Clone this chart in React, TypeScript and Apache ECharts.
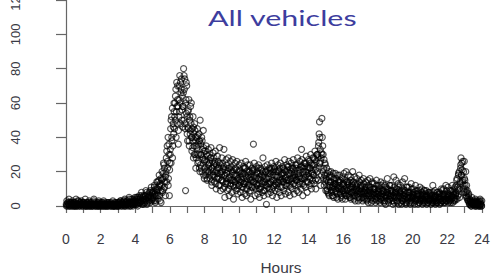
import React, { useEffect, useRef } from "react";
import * as echarts from "echarts";

// Hour-of-day slots (15 minutes each); each list holds the readings of one slot, in time order.
const slotLengthHours = 0.25;
const readings: number[][] = [
  [1, 3, 0, 2, 1, 4, 0, 2], [2, 0, 1, 3, 1, 0, 2, 1], [0, 2, 4, 1, 0, 3, 1, 2], [1, 0, 2, 1, 3, 0, 1, 2],
  [2, 1, 0, 4, 1, 0, 2, 1], [0, 1, 3, 1, 0, 2, 1, 0], [1, 0, 2, 4, 1, 0, 2, 1], [0, 2, 1, 0, 3, 1, 0, 1],
  [1, 0, 2, 1, 0, 3, 1, 0], [0, 1, 2, 0, 1, 0, 2, 1], [1, 0, 1, 2, 0, 1, 3, 0], [0, 2, 1, 0, 1, 2, 0, 1],
  [1, 0, 2, 1, 3, 0, 2, 1], [2, 1, 0, 3, 4, 1, 0, 2], [1, 3, 0, 2, 5, 1, 2, 0], [2, 4, 1, 0, 3, 1, 2, 5],
  [3, 1, 5, 2, 0, 4, 2, 6], [2, 5, 3, 8, 1, 4, 2, 6], [4, 2, 6, 9, 3, 1, 5, 7], [5, 3, 8, 2, 6, 11, 4, 7],
  [5, 9, 3, 12, 7, 2, 10, 6, 14], [8, 14, 4, 11, 18, 6, 13, 9, 2], [12, 20, 8, 16, 25, 10, 22, 14, 6], [18, 28, 14, 35, 22, 40, 16, 30, 6, 25],
  [30, 45, 25, 52, 38, 57, 35, 48, 42, 55], [45, 60, 50, 68, 55, 72, 48, 62, 58, 44], [52, 70, 76, 60, 48, 66, 74, 56, 64, 46], [58, 80, 50, 68, 74, 45, 9, 62, 54, 70, 42],
  [38, 55, 45, 62, 35, 50, 42, 58, 48, 40], [32, 45, 38, 52, 28, 42, 35, 48, 30, 40, 22], [28, 40, 34, 45, 25, 36, 30, 42, 22, 38, 50], [24, 36, 30, 40, 20, 33, 27, 44, 18, 32, 26],
  [22, 32, 18, 35, 26, 15, 29, 20, 33, 24], [20, 30, 16, 28, 34, 22, 12, 26, 18, 31], [18, 28, 14, 25, 32, 20, 10, 24, 16, 29], [17, 26, 12, 22, 34, 19, 9, 24, 15, 28],
  [15, 25, 10, 22, 33, 18, 5, 21, 13, 27], [14, 24, 9, 20, 28, 16, 6, 22, 12, 26], [13, 23, 8, 19, 27, 15, 4, 21, 11, 25], [14, 22, 9, 18, 26, 16, 7, 20, 12, 24],
  [12, 21, 8, 17, 25, 15, 5, 19, 11, 23], [13, 22, 7, 18, 26, 14, 6, 20, 10, 24], [12, 20, 8, 16, 24, 15, 4, 19, 11, 22], [11, 21, 36, 17, 25, 14, 6, 18, 10, 23],
  [12, 20, 7, 16, 24, 13, 5, 19, 10, 22], [11, 21, 8, 17, 28, 14, 6, 18, 9, 23], [12, 20, 1, 16, 24, 13, 7, 19, 10, 22], [13, 21, 8, 17, 25, 15, 6, 20, 11, 23],
  [12, 22, 9, 18, 26, 14, 5, 20, 10, 24], [13, 21, 8, 17, 25, 15, 6, 19, 11, 23], [14, 22, 9, 18, 27, 16, 7, 20, 12, 24], [13, 23, 8, 19, 26, 15, 6, 21, 11, 25],
  [14, 22, 10, 18, 27, 16, 7, 20, 12, 24], [15, 24, 9, 19, 28, 17, 8, 21, 13, 26], [14, 23, 10, 33, 27, 16, 6, 22, 12, 25], [16, 25, 11, 20, 29, 18, 8, 23, 14, 27],
  [17, 26, 12, 22, 30, 19, 10, 24, 15, 28], [18, 28, 13, 24, 32, 21, 10, 26, 16, 30], [20, 30, 15, 37, 42, 49, 25, 33, 12, 28, 18], [51, 40, 35, 30, 22, 27, 18, 14, 24, 9],
  [16, 22, 10, 19, 8, 14, 20, 6, 12, 18], [14, 20, 9, 17, 6, 12, 19, 5, 11, 15], [13, 19, 8, 16, 5, 11, 18, 4, 10, 14], [12, 18, 7, 15, 5, 10, 17, 4, 9, 13],
  [13, 19, 7, 15, 4, 11, 20, 6, 9, 14], [12, 18, 6, 14, 5, 10, 17, 4, 8, 13], [11, 20, 6, 14, 4, 9, 17, 3, 8, 12], [10, 16, 5, 13, 3, 9, 18, 4, 7, 12],
  [10, 15, 5, 12, 3, 8, 16, 4, 7, 11], [9, 14, 4, 11, 3, 8, 15, 2, 6, 10], [9, 16, 4, 11, 2, 7, 14, 3, 6, 10], [8, 13, 4, 10, 2, 7, 15, 3, 5, 9],
  [8, 12, 3, 10, 2, 6, 14, 4, 5, 9], [7, 13, 3, 9, 2, 6, 12, 1, 5, 8], [8, 16, 3, 10, 2, 6, 12, 4, 5, 9], [7, 12, 3, 9, 1, 6, 17, 2, 5, 8],
  [8, 15, 3, 10, 2, 6, 13, 1, 5, 9], [7, 12, 2, 9, 1, 5, 14, 3, 4, 8], [6, 16, 2, 9, 1, 5, 11, 3, 4, 8], [6, 11, 2, 8, 1, 5, 13, 2, 4, 7],
  [6, 10, 2, 8, 1, 4, 12, 3, 4, 7], [5, 9, 1, 7, 2, 4, 11, 3, 3, 6], [5, 10, 1, 7, 2, 4, 9, 2, 3, 6], [5, 9, 1, 6, 2, 4, 8, 3, 3, 6],
  [4, 8, 1, 6, 2, 3, 12, 2, 3, 5], [4, 9, 1, 6, 2, 3, 8, 2, 3, 5], [5, 8, 1, 7, 2, 4, 10, 3, 3, 6], [5, 10, 2, 7, 2, 4, 12, 3, 3, 6],
  [5, 11, 2, 7, 3, 4, 9, 2, 4, 6], [6, 12, 2, 8, 3, 5, 10, 3, 4, 7], [8, 15, 4, 11, 6, 18, 10, 20, 5, 13], [22, 28, 18, 25, 14, 26, 12, 20, 8, 16],
  [15, 10, 20, 6, 12, 8, 4, 5, 3, 7], [2, 4, 1, 3, 0, 2, 5, 1, 3, 2], [1, 3, 0, 2, 4, 1, 0, 2, 3, 1], [2, 0, 3, 1, 0, 4, 2, 1, 0, 3],
];
// A second run of readings for the same 15-minute slots (another day).
const secondDayReadings: number[][] = [
  [0, 1, 2, 1, 0, 2], [1, 2, 0, 1, 2, 0], [2, 0, 1, 0, 1, 3], [0, 1, 1, 2, 0, 1],
  [1, 2, 0, 1, 0, 2], [2, 0, 1, 0, 2, 1], [0, 1, 3, 1, 0, 1], [1, 0, 2, 0, 1, 2],
  [0, 2, 1, 0, 2, 1], [1, 0, 1, 2, 0, 1], [2, 1, 0, 1, 1, 0], [1, 0, 2, 1, 0, 2],
  [0, 2, 1, 3, 1, 0], [1, 3, 2, 0, 2, 1], [3, 1, 2, 4, 0, 2], [1, 3, 2, 4, 1, 3],
  [2, 4, 1, 5, 3, 2], [4, 2, 6, 3, 5, 1], [3, 6, 4, 8, 2, 5], [6, 4, 9, 5, 3, 8],
  [4, 8, 11, 6, 3, 9], [10, 6, 15, 12, 3, 16], [15, 9, 19, 24, 11, 17], [20, 32, 26, 12, 36, 21],
  [33, 50, 40, 28, 46, 60], [52, 64, 40, 58, 70, 36], [62, 55, 72, 68, 50, 58], [66, 76, 48, 60, 72, 52],
  [46, 56, 38, 52, 44, 60], [40, 34, 46, 30, 44, 38], [35, 30, 41, 26, 38, 20], [30, 22, 38, 28, 34, 16],
  [27, 20, 30, 16, 24, 22], [25, 18, 28, 14, 22, 20], [24, 17, 26, 13, 21, 19], [22, 16, 25, 12, 20, 18],
  [20, 14, 23, 11, 18, 16], [19, 13, 22, 10, 17, 15], [21, 15, 20, 12, 18, 14], [18, 12, 21, 10, 16, 15],
  [20, 14, 19, 11, 17, 13], [19, 13, 22, 10, 16, 14], [18, 12, 20, 9, 17, 15], [20, 14, 21, 11, 16, 13],
  [19, 12, 22, 10, 17, 15], [18, 13, 20, 9, 16, 14], [20, 12, 21, 11, 17, 13], [19, 14, 22, 10, 18, 15],
  [21, 13, 20, 12, 17, 14], [20, 15, 22, 11, 18, 16], [19, 14, 21, 12, 17, 15], [21, 15, 23, 12, 19, 16],
  [20, 16, 22, 13, 18, 17], [22, 15, 24, 12, 19, 17], [21, 16, 23, 13, 20, 18], [23, 17, 25, 14, 21, 19],
  [22, 16, 25, 13, 20, 19], [24, 18, 27, 15, 22, 30], [28, 35, 22, 40, 26, 31], [30, 20, 16, 12, 25, 18],
  [15, 9, 12, 7, 17, 11], [14, 8, 11, 6, 16, 10], [13, 9, 12, 7, 15, 10], [14, 8, 11, 6, 16, 9],
  [12, 8, 10, 6, 14, 9], [13, 7, 11, 5, 15, 8], [12, 8, 10, 6, 13, 9], [11, 7, 9, 5, 14, 8],
  [11, 7, 9, 5, 13, 8], [10, 6, 9, 4, 12, 7], [11, 6, 8, 5, 13, 7], [10, 6, 8, 4, 12, 7],
  [10, 6, 8, 4, 12, 7], [9, 5, 8, 3, 11, 6], [10, 6, 7, 4, 12, 6], [9, 5, 8, 3, 11, 7],
  [9, 5, 7, 3, 11, 6], [8, 5, 7, 3, 10, 6], [9, 4, 7, 2, 11, 5], [8, 5, 6, 3, 10, 5],
  [8, 5, 6, 3, 9, 4], [7, 4, 6, 2, 9, 4], [8, 4, 6, 3, 9, 5], [7, 4, 5, 2, 8, 4],
  [7, 4, 6, 2, 8, 4], [6, 3, 5, 2, 8, 4], [7, 4, 6, 2, 9, 3], [7, 4, 6, 3, 9, 5],
  [7, 4, 6, 3, 9, 5], [9, 5, 7, 4, 11, 6], [12, 16, 9, 19, 7, 14], [24, 18, 21, 15, 10, 26],
  [12, 8, 5, 9, 3, 6], [1, 3, 2, 0, 2, 1], [2, 1, 3, 0, 1, 2], [1, 2, 0, 3, 1, 0],
];
const titleText = "All vehicles";
const xAxisTitle = "Hours";

export default function App() {
  const ref = useRef<HTMLDivElement>(null);
  useEffect(() => {
    if (!ref.current) return;
    const chart = echarts.init(ref.current, undefined, { renderer: "svg" });
    const points: number[][] = [];
    [readings, secondDayReadings].forEach((day) => {
      day.forEach((vals, i) => {
        vals.forEach((v, k) => {
          points.push([i * slotLengthHours + ((k + 0.5) * slotLengthHours) / vals.length, v]);
        });
      });
    });
    const labelStyle = { color: "#3a3a44", fontFamily: "Liberation Sans", fontSize: 14 };
    chart.setOption({
      animation: false,
      backgroundColor: "#fff",
      grid: { left: 66, right: 9, top: 0, bottom: 73, containLabel: false, outerBoundsMode: "none" },
      xAxis: {
        type: "value",
        min: 0,
        max: 24,
        interval: 1,
        offset: 9,
        axisLine: { show: true, lineStyle: { color: "#666", width: 1.2 } },
        axisTick: { show: true, length: 7, lineStyle: { color: "#666", width: 1.2 } },
        splitLine: { show: false },
        axisLabel: {
          ...labelStyle,
          margin: 17,
          formatter: (v: number) => (v % 2 === 0 ? String(v) : ""),
        },
      },
      yAxis: {
        type: "value",
        min: 0,
        max: 120,
        interval: 20,
        offset: 17,
        axisLine: { show: true, lineStyle: { color: "#666", width: 1.2 } },
        axisTick: { show: true, length: 10, lineStyle: { color: "#666", width: 1.2 } },
        splitLine: { show: false },
        axisLabel: {
          ...labelStyle,
          fontSize: 13,
          rotate: 90,
          margin: 27,
          align: "center",
          verticalAlign: "bottom",
        },
      },
      graphic: [
        {
          type: "text",
          x: 208,
          y: 7,
          scaleX: 1.45,
          style: { text: titleText, fill: "#3d3d9e", font: "21px Lato" },
        },
        {
          type: "text",
          x: 281,
          y: 268,
          scaleX: 1.1,
          style: {
            text: xAxisTitle,
            fill: "#3a3a44",
            font: "14px 'Liberation Sans'",
            textAlign: "center",
            textVerticalAlign: "middle",
          },
        },
      ],
      series: [
        {
          type: "scatter",
          data: points,
          symbol: "circle",
          symbolSize: 6,
          clip: false,
          itemStyle: { color: "rgba(0,0,0,0)", borderColor: "rgba(0,0,0,0.85)", borderWidth: 1.2 },
        },
      ],
    });
    return () => chart.dispose();
  }, []);
  return <div ref={ref} style={{ width: 491, height: 279, position: "absolute", left: 0, top: 0 }} />;
}
